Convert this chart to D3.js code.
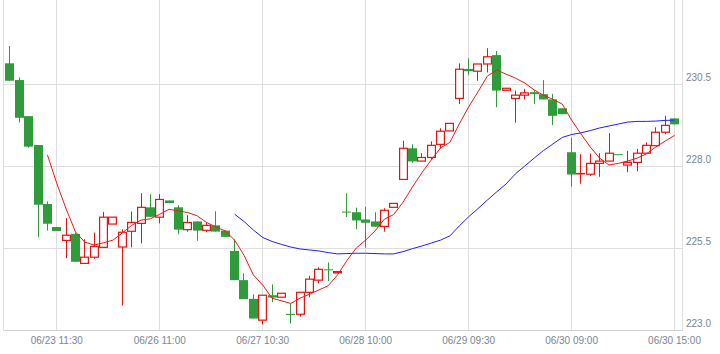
<!DOCTYPE html>
<html><head><meta charset="utf-8">
<script src="https://cdn.jsdelivr.net/npm/d3@7"></script>
<style>body{margin:0;background:#fff}svg{display:block}</style>
</head><body>
<svg id="c" width="720" height="354"></svg>
<script>
const opens  = [231.13,230.62,229.52,228.64,226.84,226.14,225.73,225.93,225.03,225.22,225.52,226.23,225.53,226.01,226.25,226.74,226.44,226.95,226.74,226.06,226.31,226.04,226.19,226.03,225.41,224.52,223.95,223.30,224.06,224.00,223.49,223.48,224.15,224.52,224.85,224.74,226.61,226.59,226.37,226.31,226.16,226.74,227.59,228.54,228.15,228.26,228.66,229.07,230.06,230.96,230.89,231.11,231.38,230.31,230.06,230.16,230.25,230.19,230.03,229.76,228.42,227.76,227.75,228.08,228.15,228.36,228.03,228.11,228.39,228.62,229.03,229.45];
const highs  = [231.66,230.70,229.52,228.64,226.92,226.14,226.41,225.97,225.77,225.97,226.60,226.44,226.07,226.61,227.17,227.14,227.14,226.95,226.80,226.50,226.31,226.28,226.62,226.03,225.77,224.73,224.09,224.06,224.39,224.12,223.81,224.15,224.65,224.91,225.06,224.78,227.17,226.73,226.76,226.59,226.71,226.86,228.77,228.66,228.39,228.75,229.15,229.30,231.13,231.28,231.11,231.59,231.51,230.37,230.30,230.35,230.32,230.62,230.20,229.76,228.86,228.36,228.38,228.39,229.00,228.36,228.46,228.52,228.72,229.18,229.53,229.45];
const lows   = [230.60,229.33,228.56,225.83,226.03,226.02,225.19,225.08,225.03,225.17,225.52,226.23,223.75,225.52,225.64,226.44,226.25,226.87,225.92,226.00,225.72,225.98,226.00,225.84,224.52,223.94,223.35,223.17,223.85,224.00,223.20,223.41,224.00,224.42,224.49,224.74,226.44,226.07,225.51,226.15,226.00,226.74,227.59,228.10,228.15,228.20,228.54,229.07,229.89,230.77,230.60,230.85,229.79,230.31,229.32,230.03,229.89,230.03,229.25,229.58,227.37,227.46,227.70,227.67,228.15,228.36,227.81,227.84,228.39,228.62,228.97,229.27];
const closes = [230.60,229.47,228.59,226.82,226.24,226.02,225.89,225.08,225.22,225.55,226.44,226.44,225.98,226.28,226.74,226.45,226.98,226.87,226.06,226.28,226.03,226.19,226.00,225.84,224.52,223.94,223.35,224.06,223.99,224.12,223.49,224.15,224.55,224.85,224.85,224.78,226.61,226.34,226.27,226.15,226.65,226.86,228.54,228.14,228.26,228.63,229.06,229.30,230.95,230.89,231.11,231.33,230.30,230.37,230.16,230.23,230.19,230.03,229.53,229.58,227.74,227.77,228.08,228.15,228.39,228.36,228.11,228.39,228.63,229.03,229.24,229.27];
// moving average lines (null = not drawn)
const maShort = [null,null,null,null,228.34,227.47,226.69,225.99,225.68,225.59,225.66,225.74,225.96,226.19,226.35,226.39,226.53,226.68,226.63,226.58,226.48,226.28,226.14,226.02,225.74,225.28,224.68,224.37,223.97,223.89,223.81,223.97,224.09,224.22,224.35,224.68,225.12,225.50,225.74,226.02,226.38,226.52,226.90,227.36,227.79,228.18,228.55,228.72,229.28,229.80,230.26,230.74,230.93,230.80,230.68,230.53,230.32,230.16,230.03,229.89,229.40,228.98,228.58,228.24,228.03,228.08,228.15,228.24,228.37,228.58,228.76,228.93];
const maLong = [null,null,null,null,null,null,null,null,null,null,null,null,null,null,null,null,null,null,null,null,null,null,null,null,226.53,226.31,226.05,225.82,225.70,225.61,225.53,225.47,225.44,225.41,225.36,225.32,225.33,225.34,225.34,225.33,225.32,225.32,225.39,225.48,225.56,225.65,225.74,225.87,226.17,226.45,226.70,226.96,227.21,227.45,227.76,228.00,228.24,228.47,228.67,228.87,228.96,229.01,229.08,229.16,229.22,229.28,229.34,229.36,229.36,229.37,229.39,229.40];
const tickIndex  = [5,16,27,38,49,60,71];
const tickLabels = ["06/23 11:30","06/26 11:00","06/27 10:30","06/28 10:00","06/29 09:30","06/30 09:00","06/30 15:00"];
const yTickValues = [223.0,225.5,228.0,230.5];

(function () {
const svg = d3.select("#c");
const pLeft = 3.5, pRight = 682.5, pBottom = 330.5, pTop = 0;
const n = opens.length;
const x = d3.scaleBand().domain(d3.range(n)).range([5.3, 679.2]).paddingInner(0);
const cx = i => x(i) + x.bandwidth()/2;
const y = d3.scaleLinear().domain([223, 223 + 330/32.8]).range([330, 0]);
const grid = "#dedede";
const up = "#e8120f", down = "#2f9b3a";
const font = "'Liberation Sans', Arial, sans-serif";

svg.append("g").selectAll("line").data(yTickValues.filter(v => v !== 223)).join("line")
  .attr("x1", pLeft).attr("x2", pRight)
  .attr("y1", d => Math.round(y(d)) + 0.5).attr("y2", d => Math.round(y(d)) + 0.5)
  .attr("stroke", grid);
svg.append("g").selectAll("line").data(tickIndex).join("line")
  .attr("x1", d => Math.floor(cx(d)) + 0.5).attr("x2", d => Math.floor(cx(d)) + 0.5)
  .attr("y1", pTop).attr("y2", pBottom)
  .attr("stroke", grid);
svg.append("line").attr("x1", pLeft).attr("x2", pLeft).attr("y1", pTop).attr("y2", pBottom).attr("stroke", grid);
svg.append("line").attr("x1", pRight).attr("x2", pRight).attr("y1", pTop).attr("y2", pBottom).attr("stroke", grid);
svg.append("line").attr("x1", pLeft).attr("x2", pRight).attr("y1", pBottom).attr("y2", pBottom).attr("stroke", "#d0d0d0");

const data = d3.range(n).map(i => ({i, o: opens[i], h: highs[i], l: lows[i], c: closes[i]}));
const cs = svg.append("g").selectAll("g").data(data).join("g");
cs.append("line")
  .attr("x1", d => Math.floor(cx(d.i)) + 0.5).attr("x2", d => Math.floor(cx(d.i)) + 0.5)
  .attr("y1", d => y(d.h)).attr("y2", d => y(d.l))
  .attr("stroke", d => d.c > d.o ? up : down).attr("stroke-width", 1);
cs.filter(d => d.c > d.o).append("rect")
  .attr("x", d => Math.floor(cx(d.i)) - 3.4).attr("width", 7.8)
  .attr("y", d => y(d.c)).attr("height", d => Math.max(0, y(d.o) - y(d.c)))
  .attr("fill", "#fff").attr("stroke", up).attr("stroke-width", 1.2);
cs.filter(d => d.c <= d.o).append("rect")
  .attr("x", d => Math.floor(cx(d.i)) - 4).attr("width", 9)
  .attr("y", d => y(d.o)).attr("height", d => Math.max(1, y(d.c) - y(d.o)))
  .attr("fill", down);

const line = d3.line().defined(d => d != null).x((d, i) => cx(i)).y(d => y(d));
svg.append("path").datum(maLong).attr("d", line).attr("fill", "none").attr("stroke", "#2020ff").attr("stroke-width", 1);
svg.append("path").datum(maShort).attr("d", line).attr("fill", "none").attr("stroke", "#f01818").attr("stroke-width", 1);

const xa = svg.append("g").attr("transform", `translate(0,${pBottom})`)
  .call(d3.axisBottom(x).tickValues(tickIndex).tickFormat(d => tickLabels[tickIndex.indexOf(d)]).tickSize(0).tickPadding(6));
xa.select(".domain").remove();
xa.selectAll("text").attr("font-family", font).attr("font-size", 10).attr("fill", "#7a8594");

const ya = svg.append("g").attr("transform", `translate(${pRight},0)`)
  .call(d3.axisRight(y).tickValues(yTickValues).tickFormat(d3.format(".1f")).tickSize(0).tickPadding(3.5));
ya.select(".domain").remove();
ya.selectAll("text").attr("font-family", font).attr("font-size", 10).attr("fill", "#7a8594").attr("dy", "-0.33em");
})();
</script>
</body></html>
